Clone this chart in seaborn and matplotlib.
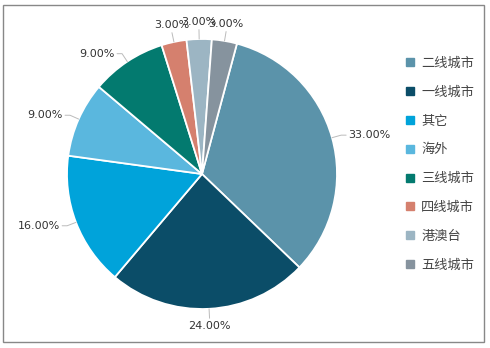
import numpy as np
import matplotlib
matplotlib.use("Agg")
import matplotlib.pyplot as plt
import seaborn as sns
from matplotlib.lines import Line2D
from matplotlib.patches import Rectangle

categories = ["二线城市", "一线城市", "其它", "海外", "三线城市", "四线城市", "港澳台", "五线城市"]
values = [33, 24, 16, 9, 9, 3, 3, 3]
value_labels = ["33.00%", "24.00%", "16.00%", "9.00%", "9.00%", "3.00%", "3.00%", "3.00%"]
colors = ["#5b93aa", "#0b4d68", "#00a3da", "#5ab7de", "#037a6f", "#d5806e", "#9cb5c3", "#86939e"]

sns.set_theme(style="white")
plt.rcParams["font.family"] = ["Noto Sans CJK SC", "DejaVu Sans"]

W, H = 490, 348
fig = plt.figure(figsize=(W / 100, H / 100), dpi=100)
ax = fig.add_axes([0, 0, 1, 1])

cx, cy, R = 202, H - 174, 135
start = 75
palette = sns.color_palette(colors)
wedges, _ = ax.pie(values, colors=palette, startangle=start, counterclock=False,
                   center=(cx, cy), radius=R,
                   wedgeprops=dict(edgecolor="white", linewidth=1.3))
ax.set_xlim(0, W)
ax.set_ylim(0, H)
ax.set_aspect("auto")
ax.axis("off")

total = sum(values)
cum = 0
for v, lab in zip(values, value_labels):
    mid = start - (cum + v / 2) / total * 360
    cum += v
    a = np.deg2rad(mid)
    c, s = np.cos(a), np.sin(a)
    p1 = (cx + R * c, cy + R * s)
    p2 = (cx + R * 1.07 * c, cy + R * 1.07 * s)
    if abs(c) < 0.25:
        ha = "center"
        va = "bottom" if s > 0 else "top"
        ax.plot([p1[0], p2[0]], [p1[1], p2[1]], color="#bbbbbb", lw=0.7)
        ty = cy + R * 1.07 * s + (3 if s > 0 else -3)
        tx = p2[0]
    else:
        ha = "left" if c > 0 else "right"
        va = "center"
        hx = p2[0] + (5 if c > 0 else -5)
        ax.plot([p1[0], p2[0], hx], [p1[1], p2[1], p2[1]], color="#bbbbbb", lw=0.7)
        tx = hx + (2 if c > 0 else -2)
        ty = p2[1]
    ax.text(tx, ty, lab, ha=ha, va=va, fontsize=8, color="#333333",
            family=["DejaVu Sans"])

handles = [Line2D([], [], marker="s", linestyle="none", markersize=5.5,
                  markerfacecolor=col, markeredgecolor=col) for col in colors]
ax.legend(handles, categories, loc="upper left",
          bbox_to_anchor=(392 / W, 1 - 45 / H), frameon=False,
          fontsize=9.5, labelspacing=1.2, handletextpad=0.3,
          handlelength=1.0, labelcolor="#444444")

fig.add_artist(Rectangle((3 / W, 1 - 342 / H), 481 / W, 337 / H,
                         transform=fig.transFigure, fill=False,
                         edgecolor="#888888", linewidth=1.0))

fig.savefig("out.png", dpi=100)
